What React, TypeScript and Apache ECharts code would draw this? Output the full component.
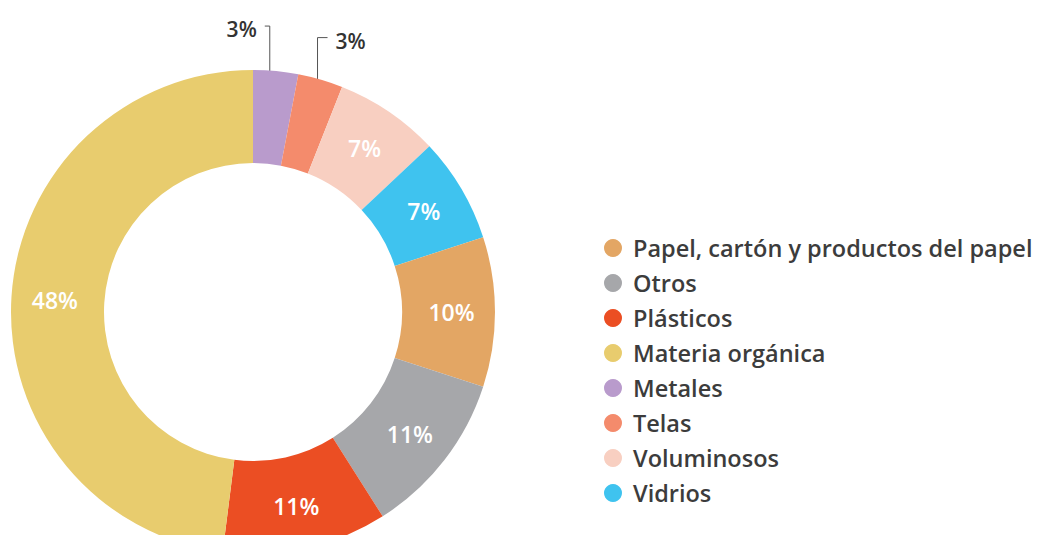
import React, { useEffect, useRef } from "react";
import * as echarts from "echarts";

const categories = [
  "Metales",
  "Telas",
  "Voluminosos",
  "Vidrios",
  "Papel, cartón y productos del papel",
  "Otros",
  "Plásticos",
  "Materia orgánica",
];
const values = [3, 3, 7, 7, 10, 11, 11, 48];
const colors = [
  "#b99bcc",
  "#f48b6c",
  "#f8cfc1",
  "#3fc3ef",
  "#e3a664",
  "#a6a7aa",
  "#eb4e23",
  "#e8cc6e",
];
const legendOrder = [
  "Papel, cartón y productos del papel",
  "Otros",
  "Plásticos",
  "Materia orgánica",
  "Metales",
  "Telas",
  "Voluminosos",
  "Vidrios",
];
const outsideLabels = ["Metales", "Telas"];

export default function App() {
  const ref = useRef<HTMLDivElement>(null);
  useEffect(() => {
    if (!ref.current) return;
    const chart = echarts.init(ref.current, null, { renderer: "svg" });
    const font = "'Open Sans', 'Noto Sans', sans-serif";
    chart.setOption({
      animation: false,
      backgroundColor: "#ffffff",
      legend: {
        orient: "vertical",
        left: 599,
        top: 231,
        icon: "circle",
        itemWidth: 18,
        itemHeight: 18,
        itemGap: 11,
        data: legendOrder,
        textStyle: {
          fontFamily: font,
          fontSize: 23.5,
          fontWeight: 600,
          color: "#3c3c3c",
          lineHeight: 20,
          padding: [0, 0, 0, 6],
        },
      },
      series: [
        {
          type: "pie",
          center: [253, 312],
          radius: [149, 242],
          startAngle: 90,
          clockwise: true,
          avoidLabelOverlap: false,
          label: {
            show: true,
            position: "inside",
            formatter: "{c}%",
            color: "#ffffff",
            fontFamily: font,
            fontSize: 23,
            fontWeight: 600,
          },
          labelLine: { show: false },
          labelLayout: (params: any) => {
            const name = categories[params.dataIndex];
            if (!outsideLabels.includes(name) || !params.labelLinePoints) return {};
            const p0 = params.labelLinePoints[0];
            const left = params.dataIndex === 0;
            const sx = left ? p0[0] - 6 : p0[0] - 3;
            const start = [sx, p0[1] + (left ? 0 : 3)];
            const topY = left ? p0[1] - 45 : p0[1] - 42;
            const endX = left ? sx - 5 : sx + 10;
            return {
              x: left ? endX - 8 : endX + 8,
              y: topY + 3,
              align: left ? "right" : "left",
              verticalAlign: "middle",
              labelLinePoints: [start, [sx, topY], [endX, topY]],
            };
          },
          data: categories.map((name, i) => {
            const item: any = {
              name,
              value: values[i],
              itemStyle: { color: colors[i] },
            };
            if (outsideLabels.includes(name)) {
              item.label = {
                position: "outside",
                color: "#333333",
                fontWeight: 600,
                fontSize: 21,
              };
              item.labelLine = {
                show: true,
                length: 20,
                length2: 5,
                lineStyle: { color: "#555555", width: 1 },
              };
            }
            return item;
          }),
        },
      ],
    });
    return () => chart.dispose();
  }, []);
  return (
    <div
      ref={ref}
      style={{ position: "fixed", left: 0, top: 0, width: 1040, height: 535 }}
    />
  );
}
